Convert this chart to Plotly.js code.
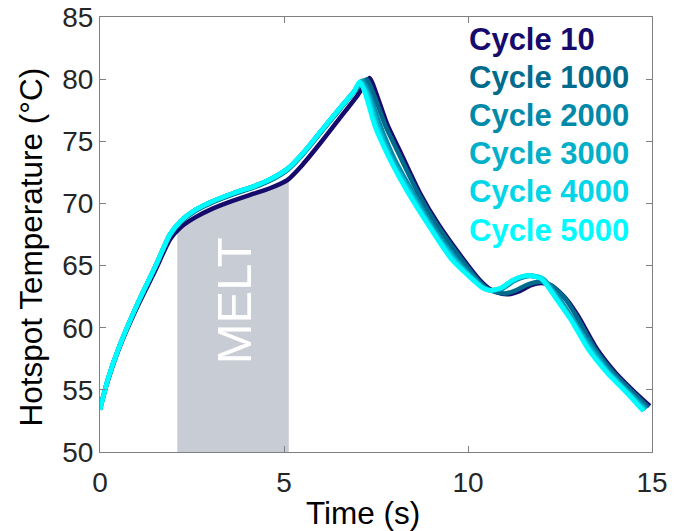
<!DOCTYPE html>
<html>
<head>
<meta charset="utf-8">
<script src="https://cdn.plot.ly/plotly-3.0.1.min.js"></script>
<style>html,body{margin:0;padding:0;background:#fff;}#chart{width:696px;height:531px;}</style>
</head>
<body>
<div id="chart"></div>
<script>
// ---- data ----
const seriesNames = ["Cycle 10", "Cycle 1000", "Cycle 2000", "Cycle 3000", "Cycle 4000", "Cycle 5000"];
const seriesColors = ["#160b6c", "#006b8c", "#0089a9", "#00afc8", "#00d6e8", "#00fbff"];

const t10 = [0, 0.2, 0.5, 1.0, 1.5, 1.9, 2.2, 2.6, 3.0, 3.6, 4.2, 4.6, 5.1, 5.5, 6.0, 6.5, 7.0, 7.33, 7.5, 7.8, 8.2, 8.7, 9.2, 9.9, 10.3, 10.6, 10.9, 11.1, 11.4, 11.7, 12.0, 12.3, 12.7, 13.0, 13.5, 14.0, 14.5, 14.94];
const T10 = [53.5, 55.6, 58.2, 61.6, 64.6, 67.1, 68.1, 68.9, 69.5, 70.2, 70.8, 71.2, 71.9, 73.1, 74.9, 76.8, 78.7, 80.1, 78.9, 76.4, 73.9, 70.8, 68.3, 65.4, 63.9, 63.1, 62.75, 62.7, 62.95, 63.4, 63.6, 63.35, 62.2, 60.9, 58.3, 56.4, 54.9, 53.7];

const t1000 = [0, 0.2, 0.5, 1.0, 1.5, 1.9, 2.2, 2.6, 3.0, 3.6, 4.2, 4.6, 5.1, 5.5, 6.0, 6.5, 7.0, 7.25, 7.45, 7.75, 8.15, 8.65, 9.15, 9.85, 10.25, 10.55, 10.85, 11.0, 11.3, 11.6, 11.95, 12.25, 12.65, 12.95, 13.45, 13.95, 14.45, 14.9];
const T1000 = [53.5, 55.7, 58.3, 61.8, 64.9, 67.4, 68.5, 69.4, 70.0, 70.7, 71.3, 71.8, 72.7, 73.9, 75.7, 77.5, 79.3, 80.0, 78.7, 76.3, 73.8, 70.8, 68.3, 65.4, 63.9, 63.1, 62.8, 62.75, 63.0, 63.45, 63.7, 63.45, 62.3, 60.9, 58.3, 56.4, 54.9, 53.6];

const t2000 = [0, 0.2, 0.5, 1.0, 1.5, 1.9, 2.2, 2.6, 3.0, 3.6, 4.2, 4.6, 5.1, 5.5, 6.0, 6.5, 6.9, 7.15, 7.35, 7.6, 8.0, 8.5, 9.1, 9.7, 10.1, 10.45, 10.7, 10.95, 11.25, 11.55, 11.75, 12.05, 12.45, 12.85, 13.35, 13.85, 14.35, 14.85];
const T2000 = [53.4, 55.7, 58.3, 61.8, 64.9, 67.5, 68.6, 69.5, 70.1, 70.8, 71.4, 71.9, 72.8, 74.0, 75.8, 77.6, 79.0, 79.9, 78.6, 76.4, 73.6, 70.9, 67.9, 65.5, 64.2, 63.2, 63.0, 63.15, 63.75, 64.1, 64.15, 63.9, 62.5, 60.7, 58.5, 56.5, 54.9, 53.5];

const t3000 = [0, 0.2, 0.5, 1.0, 1.5, 1.9, 2.2, 2.6, 3.0, 3.6, 4.2, 4.6, 5.1, 5.5, 6.0, 6.5, 6.9, 7.1, 7.3, 7.55, 7.95, 8.45, 9.05, 9.65, 10.05, 10.42, 10.65, 10.92, 11.22, 11.52, 11.72, 12.02, 12.42, 12.82, 13.32, 13.82, 14.32, 14.82];
const T3000 = [53.4, 55.7, 58.3, 61.8, 64.9, 67.5, 68.6, 69.5, 70.1, 70.8, 71.4, 71.9, 72.8, 74.0, 75.8, 77.6, 79.0, 79.85, 78.7, 76.3, 73.5, 70.9, 67.9, 65.5, 64.2, 63.2, 63.0, 63.2, 63.8, 64.15, 64.2, 63.95, 62.4, 60.7, 58.4, 56.4, 54.9, 53.4];

const t4000 = [0, 0.2, 0.5, 1.0, 1.5, 1.9, 2.2, 2.6, 3.0, 3.6, 4.2, 4.6, 5.1, 5.5, 6.0, 6.5, 6.9, 7.07, 7.25, 7.5, 7.92, 8.4, 9.02, 9.6, 10.02, 10.41, 10.62, 10.9, 11.2, 11.5, 11.7, 12.0, 12.41, 12.81, 13.29, 13.8, 14.3, 14.79];
const T4000 = [53.4, 55.7, 58.3, 61.8, 64.9, 67.5, 68.6, 69.5, 70.1, 70.8, 71.4, 71.9, 72.8, 74.0, 75.8, 77.6, 79.0, 79.8, 78.8, 76.3, 73.4, 70.9, 67.9, 65.5, 64.2, 63.2, 63.0, 63.2, 63.8, 64.15, 64.2, 64.0, 62.35, 60.65, 58.3, 56.4, 54.85, 53.35];

const t5000 = [0, 0.2, 0.5, 1.0, 1.5, 1.9, 2.2, 2.6, 3.0, 3.6, 4.2, 4.6, 5.1, 5.5, 6.0, 6.5, 6.9, 7.05, 7.2, 7.47, 7.9, 8.37, 9.0, 9.55, 10.0, 10.4, 10.6, 10.9, 11.2, 11.5, 11.68, 12.0, 12.4, 12.8, 13.27, 13.8, 14.3, 14.76];
const T5000 = [53.4, 55.7, 58.3, 61.8, 64.9, 67.5, 68.6, 69.5, 70.1, 70.8, 71.4, 71.9, 72.8, 74.0, 75.8, 77.6, 79.0, 79.8, 78.9, 76.2, 73.4, 70.85, 67.9, 65.5, 64.2, 63.2, 63.0, 63.2, 63.8, 64.15, 64.2, 63.9, 62.3, 60.6, 58.25, 56.3, 54.8, 53.3];

const meltStart = 2.1;   // s
const meltEnd = 5.13;    // s
const meltLabel = "MELT";
const xTitle = "Time (s)";
const yTitle = "Hotspot Temperature (°C)";
const xTicks = [0, 5, 10, 15];
const yTicks = [50, 55, 60, 65, 70, 75, 80, 85];

// ---- build ----
const tArr = [t10, t1000, t2000, t3000, t4000, t5000];
const TArr = [T10, T1000, T2000, T3000, T4000, T5000];

function interp(xs, ys, x) {
  for (let i = 0; i < xs.length - 1; i++) {
    if (x >= xs[i] && x <= xs[i + 1]) {
      const f = (x - xs[i]) / (xs[i + 1] - xs[i]);
      return ys[i] + f * (ys[i + 1] - ys[i]);
    }
  }
  return ys[ys.length - 1];
}

// melt region under the Cycle 10 curve
const fx = [meltStart], fy = [interp(t10, T10, meltStart)];
for (let i = 0; i < t10.length; i++) {
  if (t10[i] > meltStart && t10[i] < meltEnd) { fx.push(t10[i]); fy.push(T10[i] - 0.1); }
}
fx.push(meltEnd); fy.push(interp(t10, T10, meltEnd));
fx.push(meltEnd, meltStart); fy.push(yTicks[0], yTicks[0]);

const traces = [{
  x: fx, y: fy, type: "scatter", mode: "lines", fill: "toself",
  fillcolor: "#c8ccd4", line: {width: 0, color: "#c8ccd4"}, hoverinfo: "skip", showlegend: false
}];
for (let k = 0; k < seriesNames.length; k++) {
  traces.push({
    x: tArr[k], y: TArr[k], name: seriesNames[k], type: "scatter", mode: "lines",
    line: {color: seriesColors[k], width: 4.5, shape: "spline", smoothing: 0.6},
    showlegend: false
  });
}

const FONT = "Arial, 'Liberation Sans', sans-serif";
const PL = 100, PW = 552, PB = 452, PH = 435; // plot box in px
const annotations = [{
  x: 3.64, y: 62.2, xref: "x", yref: "y",
  text: meltLabel, showarrow: false, textangle: -90,
  font: {family: FONT, size: 49, color: "#ffffff"}
}, {
  x: (362.5 - PL) / PW, y: (PB - 513) / PH, xref: "paper", yref: "paper",
  xanchor: "center", yanchor: "middle", showarrow: false,
  text: xTitle, font: {family: FONT, size: 31.5, color: "#000000"}
}, {
  x: (30 - PL) / PW, y: (PB - 247.5) / PH, xref: "paper", yref: "paper",
  xanchor: "center", yanchor: "middle", showarrow: false, textangle: -90,
  text: yTitle, font: {family: FONT, size: 31.5, color: "#000000"}
}];
const legendTop = 39, legendStep = 38.2; // px from top
for (let k = 0; k < seriesNames.length; k++) {
  const ypx = legendTop + k * legendStep;
  annotations.push({
    x: (467 - PL) / PW, y: (PB - ypx) / PH, xref: "paper", yref: "paper",
    xanchor: "left", yanchor: "middle", showarrow: false,
    text: seriesNames[k],
    font: {family: FONT, size: 31, color: seriesColors[k], weight: "bold"}
  });
}

const axisCommon = {
  showline: true, linecolor: "#808080", linewidth: 1, mirror: "allticks",
  ticks: "inside", ticklen: 6, tickcolor: "#808080", tickwidth: 1,
  showgrid: false, zeroline: false,
  tickfont: {family: FONT, size: 28, color: "#262626"}
};

const layout = {
  width: 696, height: 531,
  margin: {l: 100, r: 44, t: 17, b: 79},
  paper_bgcolor: "#ffffff", plot_bgcolor: "#ffffff",
  showlegend: false,
  xaxis: Object.assign({}, axisCommon, {
    range: [0, 15], tickvals: xTicks, ticktext: xTicks.map(String),
    ticklabelstandoff: 5
  }),
  yaxis: Object.assign({}, axisCommon, {
    range: [50, 85], tickvals: yTicks, ticktext: yTicks.map(String)
  }),
  annotations: annotations
};

Plotly.newPlot("chart", traces, layout, {displayModeBar: false, staticPlot: true});
</script>
</body>
</html>
